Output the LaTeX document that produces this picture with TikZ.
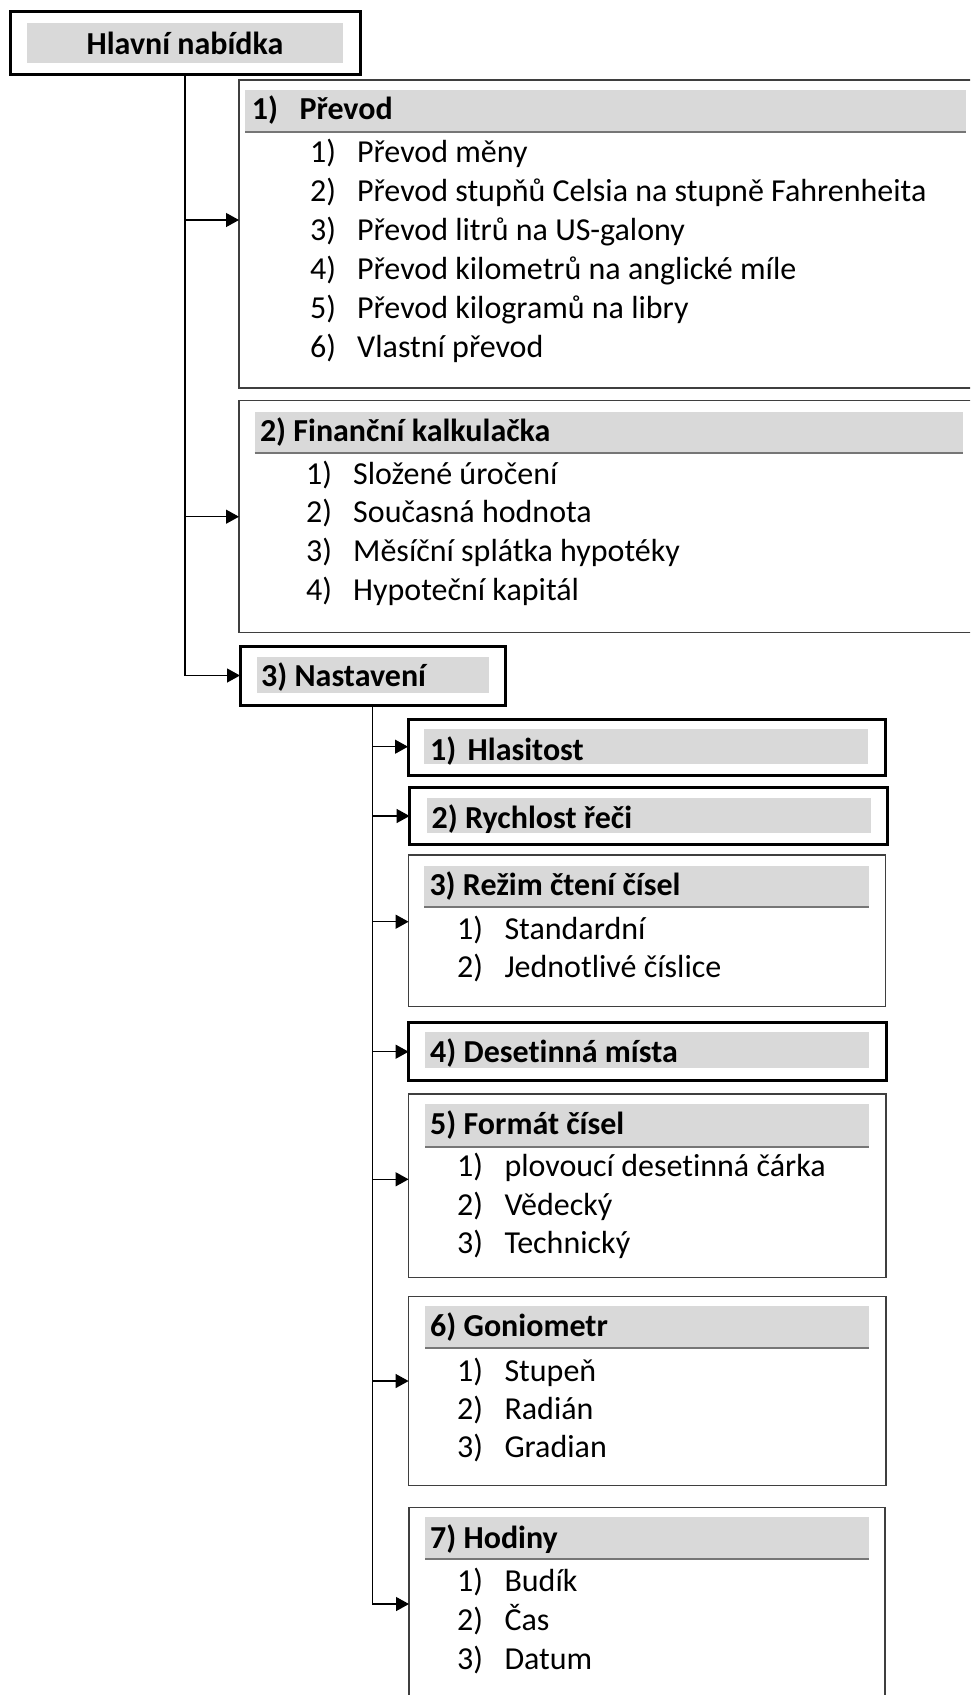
\documentclass[tikz,border=0pt]{standalone}
\usepackage{fontspec}
\setmainfont[Ligatures=NoCommon]{Carlito}
\usetikzlibrary{arrows.meta}
\definecolor{bandgray}{HTML}{D9D9D9}
\definecolor{boxgray}{HTML}{3F3F3F}
\definecolor{ulgray}{HTML}{767676}
\begin{document}
\begin{tikzpicture}[x=1pt,y=-1pt,
  thinbox/.style={draw=boxgray,line width=1.5pt,inner sep=0pt,outer sep=0pt,anchor=north west},
  thickbox/.style={draw=black,line width=3pt,inner sep=0pt,outer sep=0pt,anchor=north west},
  band/.style={fill=bandgray},
  uline/.style={draw=ulgray,line width=2pt},
  arr/.style={draw=black,line width=1.3pt,-{Triangle[length=13pt,width=14pt]}},
  conn/.style={draw=black,line width=1.3pt},
  txt/.style={anchor=base west,inner sep=0pt,font=\fontsize{32}{38}\selectfont},
  hdr/.style={anchor=base west,inner sep=0pt,font=\fontsize{32}{38}\selectfont\bfseries}]
\useasboundingbox (0,0) rectangle (970,1695);
\clip (0,0) rectangle (970,1695);
\fill[white] (0,0) rectangle (970,1695);

% bands
\fill[band] (27,23) rectangle (343,63);
\fill[band] (245,90) rectangle (966,132);
\fill[band] (254.6,411.7) rectangle (963,452.7);
\fill[band] (257,657) rectangle (489,693);
\fill[band] (424.4,729.3) rectangle (868.4,764.3);
\fill[band] (426.5,798.3) rectangle (870.9,833.3);
\fill[band] (424.4,865.7) rectangle (869,907.3);
\fill[band] (425.4,1032.3) rectangle (869,1068.3);
\fill[band] (425.4,1104.3) rectangle (869,1146.7);
\fill[band] (425.4,1306) rectangle (869,1348.3);
\fill[band] (425.4,1517.3) rectangle (869,1559.3);
% underlines
\draw[uline] (245,132) -- (966,132);
\draw[uline] (254.6,452.7) -- (963,452.7);
\draw[uline] (424.4,907.3) -- (869,907.3);
\draw[uline] (425.4,1146.7) -- (869,1146.7);
\draw[uline] (425.4,1348.3) -- (869,1348.3);
\draw[uline] (425.4,1559.3) -- (869,1559.3);

% boxes
\node[thickbox,minimum width=350pt,minimum height=63pt] (hlavni) at (10,11) {};
\node[thinbox,minimum width=780pt,minimum height=308pt] (prevod) at (239,80) {};
\node[thinbox,minimum width=780pt,minimum height=232pt] (financni) at (239,400.7) {};
\node[thickbox,minimum width=265.6pt,minimum height=59pt] (nastaveni) at (240,646) {};
\node[thickbox,minimum width=477.6pt,minimum height=56.3pt] (hlasitost) at (408,719) {};
\node[thickbox,minimum width=477.8pt,minimum height=56.3pt] (rychlost) at (409.6,787.7) {};
\node[thinbox,minimum width=477pt,minimum height=151.7pt] (rezim) at (408.6,855) {};
\node[thickbox,minimum width=477.4pt,minimum height=57.3pt] (desetinna) at (408.6,1022.7) {};
\node[thinbox,minimum width=477.4pt,minimum height=183.7pt] (format) at (408.6,1094) {};
\node[thinbox,minimum width=477.4pt,minimum height=189pt] (gonio) at (408.6,1296.7) {};
\node[thinbox,minimum width=476pt,minimum height=230pt] (hodiny) at (409,1507.7) {};

% texts
\node[hdr,anchor=base] (th) at (185,54.3) {Hlavní nabídka};

\node[hdr] (p0n) at (251.7,119.5) {1)};
\node[hdr] (p0) at (299.3,119.5) {Převod};
\node[txt] (p1n) at (310,162.5) {1)};
\node[txt] (p1) at (357,162.5) {Převod měny};
\node[txt] (p2n) at (310,201.5) {2)};
\node[txt] (p2) at (357,201.5) {Převod stupňů Celsia na stupně Fahrenheita};
\node[txt] (p3n) at (310,240.5) {3)};
\node[txt] (p3) at (357,240.5) {Převod litrů na US-galony};
\node[txt] (p4n) at (310,279.5) {4)};
\node[txt] (p4) at (357,279.5) {Převod kilometrů na anglické míle};
\node[txt] (p5n) at (310,318.5) {5)};
\node[txt] (p5) at (357,318.5) {Převod kilogramů na libry};
\node[txt] (p6n) at (310,357.5) {6)};
\node[txt] (p6) at (357,357.5) {Vlastní převod};

\node[hdr] (f0) at (259.8,441.7) {2) Finanční kalkulačka};
\node[txt] (f1n) at (306,484) {1)};
\node[txt] (f1) at (353,484) {Složené úročení};
\node[txt] (f2n) at (306,522.7) {2)};
\node[txt] (f2) at (353,522.7) {Současná hodnota};
\node[txt] (f3n) at (306,561.7) {3)};
\node[txt] (f3) at (353,561.7) {Měsíční splátka hypotéky};
\node[txt] (f4n) at (306,600.7) {4)};
\node[txt] (f4) at (353,600.7) {Hypoteční kapitál};

\node[hdr] (n0) at (261,686.7) {3) Nastavení};

\node[hdr] (h0n) at (430,760) {1)};
\node[hdr] (h0) at (467.5,760) {Hlasitost};
\node[hdr] (r0) at (431.4,828) {2) Rychlost řeči};

\node[hdr] (c0) at (429.3,895) {3) Režim čtení čísel};
\node[txt] (c1n) at (457,939) {1)};
\node[txt] (c1) at (504.3,939) {Standardní};
\node[txt] (c2n) at (457,977.3) {2)};
\node[txt] (c2) at (504.3,977.3) {Jednotlivé číslice};

\node[hdr] (d0) at (430,1062.7) {4) Desetinná místa};

\node[hdr] (fm0) at (430,1134) {5) Formát čísel};
\node[txt] (fm1n) at (457,1176.7) {1)};
\node[txt] (fm1) at (504.3,1176.7) {plovoucí desetinná čárka};
\node[txt] (fm2n) at (457,1215) {2)};
\node[txt] (fm2) at (504.3,1215) {Vědecký};
\node[txt] (fm3n) at (457,1253.3) {3)};
\node[txt] (fm3) at (504.3,1253.3) {Technický};

\node[hdr] (g0) at (430,1336.7) {6) Goniometr};
\node[txt] (g1n) at (457,1381) {1)};
\node[txt] (g1) at (504.3,1381) {Stupeň};
\node[txt] (g2n) at (457,1419.3) {2)};
\node[txt] (g2) at (504.3,1419.3) {Radián};
\node[txt] (g3n) at (457,1457.7) {3)};
\node[txt] (g3) at (504.3,1457.7) {Gradian};

\node[hdr] (o0) at (430,1548.3) {7) Hodiny};
\node[txt] (o1n) at (457,1591.7) {1)};
\node[txt] (o1) at (504.3,1591.7) {Budík};
\node[txt] (o2n) at (457,1630) {2)};
\node[txt] (o2) at (504.3,1630) {Čas};
\node[txt] (o3n) at (457,1669.3) {3)};
\node[txt] (o3) at (504.3,1669.3) {Datum};

% connectors
\draw[arr] (hlavni.south) |- (nastaveni.west);
\draw[arr] (hlavni.south |- 0,220) -- (prevod.west |- 0,220);
\draw[arr] (hlavni.south |- 0,516.7) -- (financni.west |- 0,516.7);

\draw[arr] (nastaveni.south) |- (hodiny.west |- 0,1604);
\draw[arr] (nastaveni.south |- 0,746.7) -- (hlasitost.west |- 0,746.7);
\draw[arr] (nastaveni.south |- 0,816) -- (rychlost.west |- 0,816);
\draw[arr] (nastaveni.south |- 0,921.7) -- (rezim.west |- 0,921.7);
\draw[arr] (nastaveni.south |- 0,1051.7) -- (desetinna.west |- 0,1051.7);
\draw[arr] (nastaveni.south |- 0,1179.3) -- (format.west |- 0,1179.3);
\draw[arr] (nastaveni.south |- 0,1381) -- (gonio.west |- 0,1381);
\end{tikzpicture}
\end{document}
